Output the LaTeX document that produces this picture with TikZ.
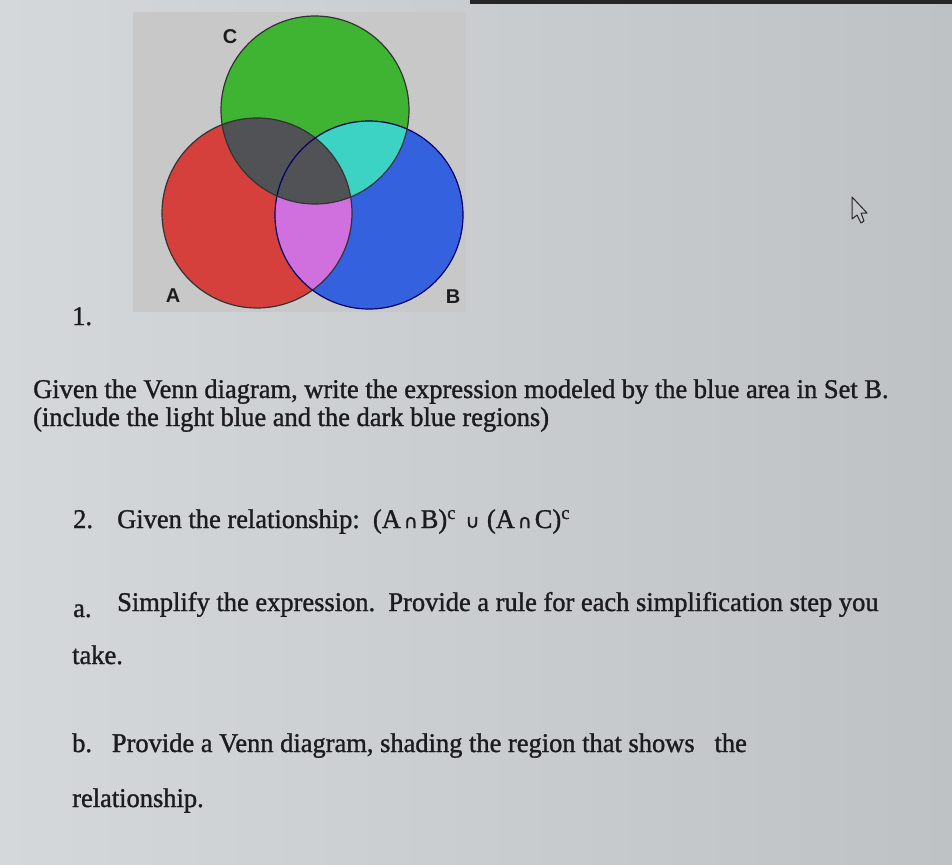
\documentclass[tikz,border=0pt]{standalone}
\usepackage{fontspec}
\setmainfont[FakeStretch=0.98, FakeBold=1.2]{Liberation Serif}
\newfontfamily\symfont[FakeBold=1.2]{DejaVu Sans}
\newfontfamily\labfont{Liberation Sans}
\usepackage{xcolor}
\usetikzlibrary{positioning}

\definecolor{screen}{RGB}{212,216,218}
\definecolor{screendark}{RGB}{190,194,197}
\definecolor{panel}{RGB}{200,200,200}
\definecolor{setred}{RGB}{214,64,60}
\definecolor{setblue}{RGB}{52,98,222}
\definecolor{setgreen}{RGB}{62,180,50}
\definecolor{setcyan}{RGB}{60,210,196}
\definecolor{setpink}{RGB}{208,112,222}
\definecolor{setgray}{RGB}{80,82,86}
\definecolor{inktext}{RGB}{28,28,30}

\tikzset{
  qtext/.style={anchor=base west, inner sep=0pt, text=inktext, font=\fontsize{27}{30}\selectfont},
  setlabel/.style={inner sep=0pt, text=inktext, font=\labfont\bfseries\fontsize{20}{20}\selectfont}
}

\newcommand{\setop}[1]{\hspace{3pt}{\symfont\fontsize{19}{19}\selectfont #1}\hspace{3pt}}

\begin{document}
\begin{tikzpicture}[x=1pt,y=-1pt]
\useasboundingbox (0,0) rectangle (952,864);

% Draw screen background
\shade[left color=screen, right color=screendark] (0,0) rectangle (952,864);
\fill[black!85] (470,0) rectangle (952,4);

% Draw Venn panel
\fill[panel] (133,12) rectangle (466,312);

\def\circA{(257,213) circle[radius=95]}
\def\circB{(369,215) circle[radius=94]}
\def\circC{(315,110) circle[radius=94]}

% Draw shaded regions
\fill[setred] \circA;
\fill[setblue] \circB;
\fill[setgreen] \circC;
\begin{scope}
  \clip \circA;
  \fill[setpink] \circB;
  \fill[setgray] \circC;
\end{scope}
\begin{scope}
  \clip \circB;
  \fill[setcyan] \circC;
  \clip \circA;
  \fill[setgray] \circC;
\end{scope}

% Draw outlines
\draw[black!80, line width=1.2pt] \circA;
\draw[blue!40!black, line width=1.2pt] \circB;
\draw[black!80, line width=1.2pt] \circC;

% Set labels
\node[setlabel] (labC) at (230,37) {C};
\node[setlabel] (labA) at (173,296) {A};
\node[setlabel] (labB) at (453,297) {B};

% Question text
\node[qtext] (num1) at (72,325) {1.};
\node[qtext] (q1a) at (33,398) {Given the Venn diagram, write the expression modeled by the blue area in Set B.};
\node[qtext] (q1b) at (33,426) {(include the light blue and the dark blue regions)};
\node[qtext] (num2) at (73,528) {2.};
\node[qtext] (q2) at (117,528) {Given the relationship:\ \ (A\setop{∩}B)\textsuperscript{c}\ \setop{∪}\,(A\setop{∩}C)\textsuperscript{c}};
\node[qtext] (numa) at (73,617) {a.};
\node[qtext] (qa1) at (117,611) {Simplify the expression.\ \ Provide a rule for each simplification step you};
\node[qtext] (qa2) at (72,664) {take.};
\node[qtext] (qb1) at (72,752) {b.\ \ \ Provide a Venn diagram, shading the region that shows\ \ \ the};
\node[qtext] (qb2) at (72,807) {relationship.};

% Mouse pointer
\filldraw[fill=screendark!90, draw=black!85, line width=1pt, line join=round]
  (852,197) -- (852,219) -- (857,215) -- (861,223) -- (864,221) -- (861,213) -- (867,213) -- cycle;

\end{tikzpicture}
\end{document}
